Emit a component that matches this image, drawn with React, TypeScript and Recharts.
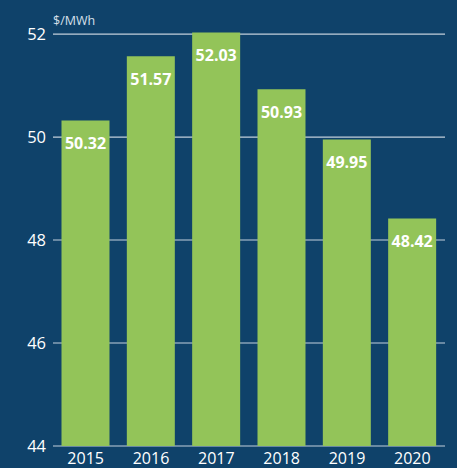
import { Bar, BarChart, CartesianGrid, LabelList, XAxis, YAxis } from "recharts";

const years = ["2015", "2016", "2017", "2018", "2019", "2020"];
const prices = [50.32, 51.57, 52.03, 50.93, 49.95, 48.42];
const yTicks = [44, 46, 48, 50, 52];

const data = years.map((year, i) => ({ year, price: prices[i] }));

const BG = "#0f426a";
const GREEN = "#93c459";
const FONT = "'Open Sans', 'Noto Sans', sans-serif";

export default function App() {
  return (
    <div
      style={{
        position: "absolute",
        top: 0,
        left: 0,
        width: 457,
        height: 468,
        background: BG,
        fontFamily: FONT,
        overflow: "hidden",
      }}
    >
      <div
        style={{
          position: "absolute",
          left: 53,
          top: 12,
          fontSize: 12.5,
          color: "#d7e0ea",
        }}
      >
        $/MWh
      </div>
      <BarChart
        width={457}
        height={468}
        data={data}
        margin={{ top: 32.5, right: 12, bottom: 0, left: 0 }}
        barCategoryGap="13%"
      >
        <CartesianGrid
          horizontal
          vertical={false}
          syncWithTicks
          stroke="#c3cfdb"
          strokeWidth={1.2}
        />
        <XAxis
          dataKey="year"
          axisLine={false}
          tickLine={false}
          tickSize={0}
          tickMargin={7}
          height={22}
          tick={{ fill: "#ffffff", fontSize: 16, fontFamily: FONT }}
        />
        <YAxis
          domain={[44, "dataMax"]}
          ticks={yTicks}
          axisLine={false}
          tickLine={false}
          tickSize={0}
          tickMargin={7}
          width={53}
          tick={{ fill: "#ffffff", fontSize: 16.5, fontFamily: FONT }}
        />
        <Bar dataKey="price" fill={GREEN} isAnimationActive={false}>
          <LabelList
            dataKey="price"
            position="insideTop"
            offset={17}
            formatter={(v: number) => v.toFixed(2)}
            style={{ fill: "#ffffff", fontSize: 16, fontWeight: 700, fontFamily: FONT }}
          />
        </Bar>
      </BarChart>
    </div>
  );
}
